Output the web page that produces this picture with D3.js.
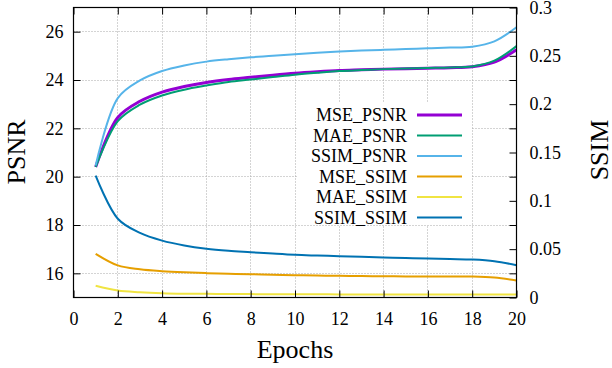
<!DOCTYPE html>
<html>
<head>
<meta charset="utf-8">
<script src="https://cdn.jsdelivr.net/npm/d3@7/dist/d3.min.js"></script>
<style>
    body { margin: 0; background: #fff; }
    text { font-family: "Liberation Serif", "DejaVu Serif", serif; fill: #000; }
</style>
</head>
<body>
<svg id="chart" width="612" height="368"></svg>
<script>

// epochs on the x axis
var epochs = [1, 2, 3, 4, 5, 6, 7, 8, 9, 10, 11, 12, 13, 14, 15, 16, 17, 18, 19, 20];

// PSNR series (left axis)
var msePsnr  = [20.40, 22.45, 23.12, 23.50, 23.73, 23.90, 24.02, 24.11, 24.20, 24.28, 24.34, 24.39, 24.42, 24.45, 24.47, 24.49, 24.51, 24.55, 24.74, 25.25];
var maePsnr  = [20.40, 22.30, 22.98, 23.36, 23.60, 23.77, 23.92, 24.02, 24.12, 24.22, 24.30, 24.37, 24.41, 24.45, 24.48, 24.50, 24.52, 24.56, 24.80, 25.40];
var ssimPsnr = [20.46, 23.25, 23.98, 24.37, 24.60, 24.76, 24.86, 24.94, 25.00, 25.07, 25.13, 25.18, 25.22, 25.25, 25.28, 25.31, 25.34, 25.38, 25.60, 26.18];

// SSIM series (right axis)
var mseSsim  = [0.0452, 0.0332, 0.0292, 0.0272, 0.0260, 0.0252, 0.0246, 0.0241, 0.0236, 0.0231, 0.0227, 0.0224, 0.0222, 0.0220, 0.0218, 0.0217, 0.0217, 0.0217, 0.0207, 0.0176];
var maeSsim  = [0.0121, 0.0072, 0.0055, 0.0045, 0.0040, 0.0038, 0.0036, 0.0035, 0.0034, 0.0033, 0.0033, 0.0032, 0.0032, 0.0031, 0.0031, 0.0031, 0.0031, 0.0031, 0.0031, 0.0031];
var ssimSsim = [0.1260, 0.0815, 0.0668, 0.0588, 0.0538, 0.0505, 0.0484, 0.0469, 0.0454, 0.0441, 0.0434, 0.0428, 0.0421, 0.0414, 0.0408, 0.0403, 0.0398, 0.0393, 0.0376, 0.0334];

var seriesNames = ['MSE_PSNR', 'MAE_PSNR', 'SSIM_PSNR', 'MSE_SSIM', 'MAE_SSIM', 'SSIM_SSIM'];
var seriesColors = ['#9400d3', '#009e73', '#56b4e9', '#e69f00', '#f0e442', '#0072b2'];

// tick values
var xTicks = [0, 2, 4, 6, 8, 10, 12, 14, 16, 18, 20];
var yTicks = [16, 18, 20, 22, 24, 26];
var y2Ticks = [0, 0.05, 0.1, 0.15, 0.2, 0.25, 0.3];

var series = [
    { name: seriesNames[0], axis: 'y',  values: msePsnr,  color: seriesColors[0], width: 3 },
    { name: seriesNames[1], axis: 'y',  values: maePsnr,  color: seriesColors[1], width: 2 },
    { name: seriesNames[2], axis: 'y',  values: ssimPsnr, color: seriesColors[2], width: 2 },
    { name: seriesNames[3], axis: 'y2', values: mseSsim,  color: seriesColors[3], width: 2 },
    { name: seriesNames[4], axis: 'y2', values: maeSsim,  color: seriesColors[4], width: 2 },
    { name: seriesNames[5], axis: 'y2', values: ssimSsim, color: seriesColors[5], width: 2 }
];

var plotLeft = 73.5, plotTop = 7.5;
var width = 443, height = 290;

var svg = d3.select('#chart');
var g = svg.append('g').attr('transform', 'translate(' + plotLeft + ',' + plotTop + ')');

var x = d3.scaleLinear().domain([0, 20]).range([0, width]);
var y = d3.scaleLinear().domain([15, 27]).range([height, 0]);
var y2 = d3.scaleLinear().domain([0, 0.3]).range([height, 0]);

// dotted grid
var grid = g.append('g');
grid.selectAll('line.gx')
    .data(xTicks.slice(1, -1))
    .enter().append('line')
    .attr('class', 'gx')
    .attr('x1', function(d) { return Math.round(x(d)); })
    .attr('x2', function(d) { return Math.round(x(d)); })
    .attr('y1', 0).attr('y2', height);
grid.selectAll('line.gy')
    .data(yTicks)
    .enter().append('line')
    .attr('class', 'gy')
    .attr('y1', function(d) { return Math.round(y(d)); })
    .attr('y2', function(d) { return Math.round(y(d)); })
    .attr('x1', 0).attr('x2', width);
grid.selectAll('line')
    .attr('stroke', '#a8a8a8')
    .attr('stroke-width', 1)
    .attr('stroke-dasharray', '1,2');

// opaque key box hides the grid under the legend
g.append('rect')
    .attr('x', 297 - plotLeft).attr('y', 103 - plotTop)
    .attr('width', 174).attr('height', 122)
    .attr('fill', '#fff');

// curves
var line = function(s) {
    var yScale = s.axis === 'y' ? y : y2;
    return d3.line()
        .x(function(d, i) { return x(epochs[i]); })
        .y(function(d) { return yScale(d); })
        .curve(d3.curveCatmullRom.alpha(0.5))(s.values);
};

g.append('g').selectAll('path')
    .data(series)
    .enter().append('path')
    .attr('d', line)
    .attr('fill', 'none')
    .attr('stroke', function(d) { return d.color; })
    .attr('stroke-width', function(d) { return d.width; });

// axes, ticks inward
function styleAxis(sel) {
    sel.attr('font-family', null);
    sel.select('.domain').remove();
    sel.selectAll('.tick line').attr('stroke', '#000');
    sel.selectAll('text').style('font-size', '18px').attr('fill', '#000');
}

g.append('g')
    .attr('transform', 'translate(0,' + height + ')')
    .call(d3.axisBottom(x).tickValues(xTicks).tickSize(-7).tickPadding(15).tickFormat(d3.format('d')))
    .call(styleAxis);

g.append('g')
    .call(d3.axisTop(x).tickValues(xTicks).tickSize(-7).tickFormat(''))
    .call(styleAxis);

g.append('g')
    .call(d3.axisLeft(y).tickValues(yTicks).tickSize(-7).tickPadding(10).tickFormat(d3.format('d')))
    .call(styleAxis);

g.append('g')
    .attr('transform', 'translate(' + width + ',0)')
    .call(d3.axisRight(y).tickValues(yTicks).tickSize(-7).tickFormat(''))
    .call(styleAxis);

g.append('g')
    .attr('transform', 'translate(' + width + ',0)')
    .call(d3.axisRight(y2).tickValues(y2Ticks).tickSize(-7).tickPadding(13).tickFormat(d3.format('~g')))
    .call(styleAxis);

// frame
g.append('rect')
    .attr('width', width).attr('height', height)
    .attr('fill', 'none')
    .attr('stroke', '#000')
    .attr('stroke-width', 1.2);

// axis titles
svg.append('text')
    .attr('x', 295).attr('y', 358)
    .attr('text-anchor', 'middle')
    .style('font-size', '26px')
    .text('Epochs');

svg.append('text')
    .attr('transform', 'translate(25,152) rotate(-90)')
    .attr('text-anchor', 'middle')
    .style('font-size', '26px')
    .text('PSNR');

svg.append('text')
    .attr('transform', 'translate(608,150) rotate(-90)')
    .attr('text-anchor', 'middle')
    .style('font-size', '26px')
    .text('SSIM');

// legend
var legend = svg.append('g').selectAll('g')
    .data(series)
    .enter().append('g')
    .attr('transform', function(d, i) { return 'translate(0,' + (115 + i * 20.5) + ')'; });

legend.append('text')
    .attr('x', 407)
    .attr('dy', '0.35em')
    .attr('text-anchor', 'end')
    .style('font-size', '18px')
    .text(function(d) { return d.name; });

legend.append('line')
    .attr('x1', 417).attr('x2', 462)
    .attr('stroke', function(d) { return d.color; })
    .attr('stroke-width', function(d) { return d.width; });

</script>
</body>
</html>
